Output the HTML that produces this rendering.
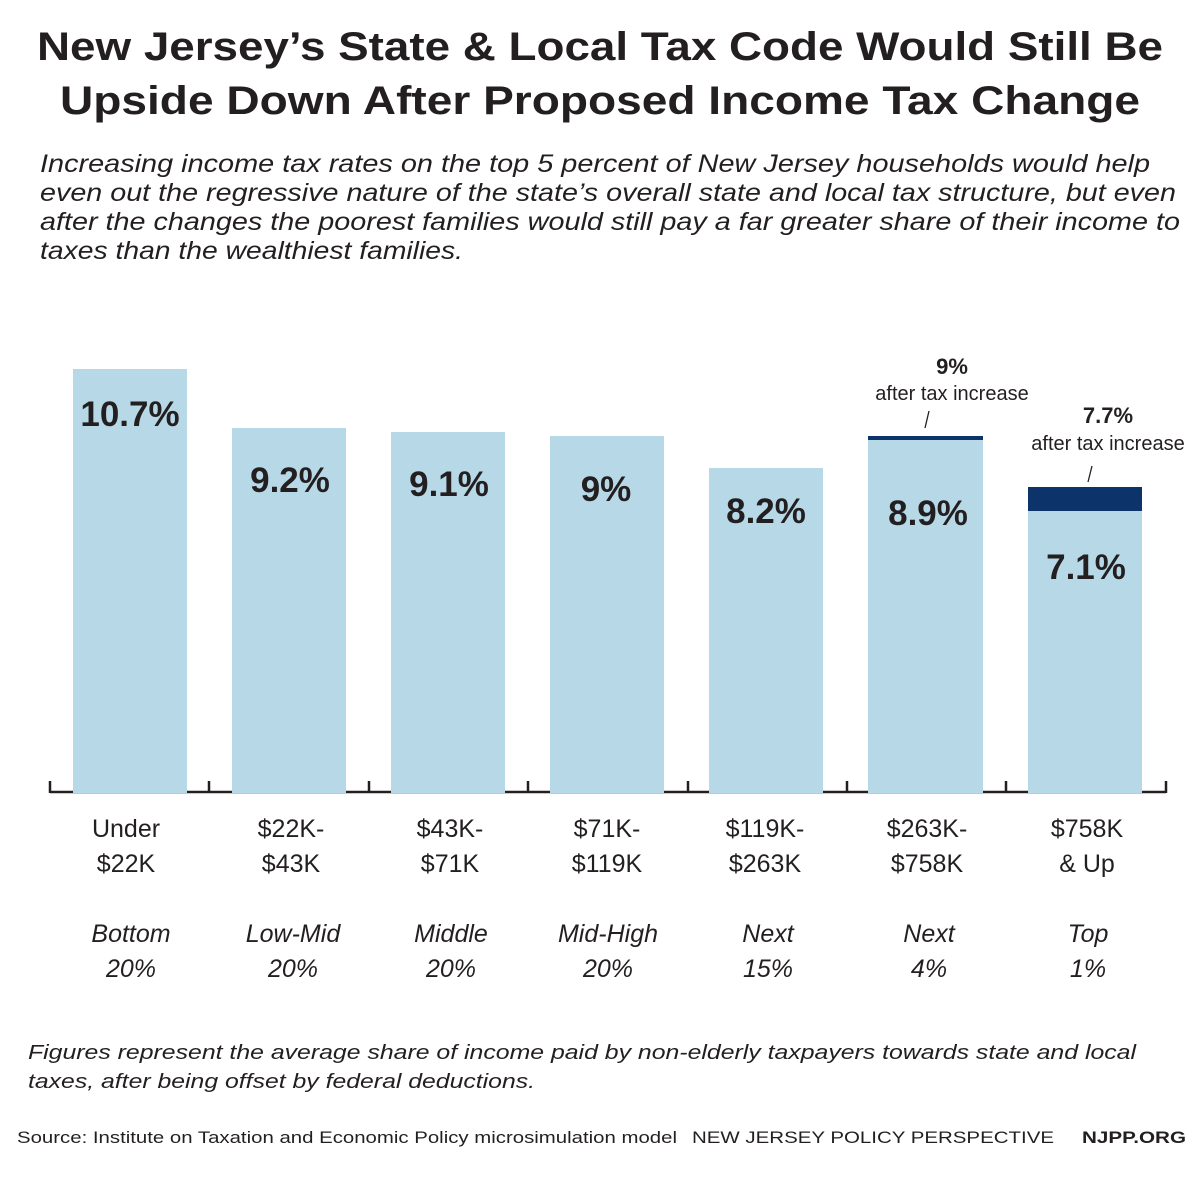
<!DOCTYPE html>
<html><head><meta charset="utf-8"><style>
body{margin:0;background:#fff}
svg{display:block}
text{font-family:"Liberation Sans",Arial,sans-serif;fill:#231f20}
</style></head><body>
<svg width="1200" height="1177" viewBox="0 0 1200 1177">
<g font-weight="bold" font-size="40" text-anchor="middle">
<text x="600" y="60" textLength="1126" lengthAdjust="spacingAndGlyphs">New Jersey’s State &amp; Local Tax Code Would Still Be</text>
<text x="600" y="114" textLength="1080" lengthAdjust="spacingAndGlyphs">Upside Down After Proposed Income Tax Change</text>
</g>
<g font-style="italic" font-size="25" fill="#333">
<text x="40" y="172" textLength="1110" lengthAdjust="spacingAndGlyphs">Increasing income tax rates on the top 5 percent of New Jersey households would help</text>
<text x="40" y="201" textLength="1136" lengthAdjust="spacingAndGlyphs">even out the regressive nature of the state’s overall state and local tax structure, but even</text>
<text x="40" y="230" textLength="1140" lengthAdjust="spacingAndGlyphs">after the changes the poorest families would still pay a far greater share of their income to</text>
<text x="40" y="259" textLength="423" lengthAdjust="spacingAndGlyphs">taxes than the wealthiest families.</text>
</g>
<g stroke="#231f20" stroke-width="2.5" fill="none">
<line x1="50" y1="792" x2="1166" y2="792"/>
<line x1="50" y1="781" x2="50" y2="793"/><line x1="209" y1="781" x2="209" y2="793"/>
<line x1="369" y1="781" x2="369" y2="793"/><line x1="528" y1="781" x2="528" y2="793"/>
<line x1="688" y1="781" x2="688" y2="793"/><line x1="847" y1="781" x2="847" y2="793"/>
<line x1="1006" y1="781" x2="1006" y2="793"/><line x1="1166" y1="781" x2="1166" y2="793"/>
</g>
<g fill="#b6d8e7">
<rect x="73" y="369" width="114" height="424"/>
<rect x="232" y="428" width="114" height="365"/>
<rect x="391" y="432" width="114" height="361"/>
<rect x="550" y="436" width="114" height="357"/>
<rect x="709" y="468" width="114" height="325"/>
<rect x="868" y="437" width="115" height="356"/>
<rect x="1028" y="487" width="114" height="306"/>
</g>
<g fill="#0d346a">
<rect x="868" y="436" width="115" height="4"/>
<rect x="1028" y="487" width="114" height="24"/>
</g>
<g font-weight="bold" font-size="35" text-anchor="middle">
<text x="130" y="426">10.7%</text>
<text x="290" y="492">9.2%</text>
<text x="449" y="496">9.1%</text>
<text x="606" y="501">9%</text>
<text x="766" y="523">8.2%</text>
<text x="928" y="525">8.9%</text>
<text x="1086" y="579">7.1%</text>
</g>
<g text-anchor="middle">
<text x="952" y="374" font-weight="bold" font-size="22">9%</text>
<text x="952" y="400" font-size="20">after tax increase</text>
<text x="1108" y="423" font-weight="bold" font-size="22">7.7%</text>
<text x="1108" y="450" font-size="20">after tax increase</text>
</g>
<g stroke="#231f20" stroke-width="1.3">
<line x1="925" y1="428" x2="929" y2="411"/>
<line x1="1088" y1="482" x2="1092" y2="466"/>
</g>
<g font-size="25" text-anchor="middle" fill="#333">
<text x="126" y="837">Under</text><text x="126" y="872">$22K</text>
<text x="291" y="837">$22K-</text><text x="291" y="872">$43K</text>
<text x="450" y="837">$43K-</text><text x="450" y="872">$71K</text>
<text x="607" y="837">$71K-</text><text x="607" y="872">$119K</text>
<text x="765" y="837">$119K-</text><text x="765" y="872">$263K</text>
<text x="927" y="837">$263K-</text><text x="927" y="872">$758K</text>
<text x="1087" y="837">$758K</text><text x="1087" y="872">&amp; Up</text>
</g>
<g font-size="25" font-style="italic" text-anchor="middle" fill="#333">
<text x="131" y="942">Bottom</text><text x="131" y="977">20%</text>
<text x="293" y="942">Low-Mid</text><text x="293" y="977">20%</text>
<text x="451" y="942">Middle</text><text x="451" y="977">20%</text>
<text x="608" y="942">Mid-High</text><text x="608" y="977">20%</text>
<text x="768" y="942">Next</text><text x="768" y="977">15%</text>
<text x="929" y="942">Next</text><text x="929" y="977">4%</text>
<text x="1088" y="942">Top</text><text x="1088" y="977">1%</text>
</g>
<g font-size="20" font-style="italic" fill="#333">
<text x="28" y="1059" textLength="1108" lengthAdjust="spacingAndGlyphs">Figures represent the average share of income paid by non-elderly taxpayers towards state and local</text>
<text x="28" y="1088" textLength="507" lengthAdjust="spacingAndGlyphs">taxes, after being offset by federal deductions.</text>
</g>
<g font-size="17">
<text x="17" y="1143" textLength="660" lengthAdjust="spacingAndGlyphs">Source: Institute on Taxation and Economic Policy microsimulation model</text>
<text x="692" y="1143" textLength="362" lengthAdjust="spacingAndGlyphs">NEW JERSEY POLICY PERSPECTIVE</text>
<text x="1082" y="1143" font-weight="bold" textLength="104" lengthAdjust="spacingAndGlyphs">NJPP.ORG</text>
</g>
</svg>
</body></html>
